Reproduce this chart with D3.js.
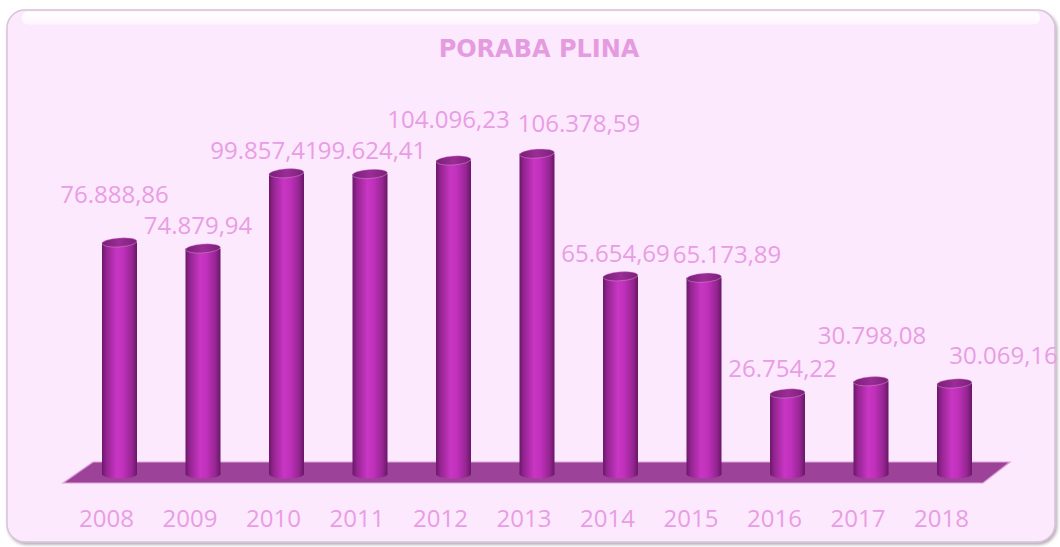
<!DOCTYPE html>
<html lang="sl">
<head>
<meta charset="utf-8">
<script src="https://d3js.org/d3.v7.min.js"></script>
<style>
  body { margin: 0; background: #fff; }
  text { font-family: "Open Sans", sans-serif; }
</style>
</head>
<body>
<script>
// data
var years = ["2008", "2009", "2010", "2011", "2012", "2013", "2014", "2015", "2016", "2017", "2018"];
var usage = [76888.86, 74879.94, 99857.41, 99624.41, 104096.23, 106378.59, 65654.69, 65173.89, 26754.22, 30798.08, 30069.16];
var labels = ["76.888,86", "74.879,94", "99.857,41", "99.624,41", "104.096,23", "106.378,59", "65.654,69", "65.173,89", "26.754,22", "30.798,08", "30.069,16"];
var title = "PORABA PLINA";

// layout: the labels in the original were dragged around by hand, these are the nudges (px)
var labelNudge = [[0, -25], [0, 0], [-17, 0], [7, 0], [0, -18], [47, -7], [0, 0], [28, 0], [0, -2], [6, -23], [54, -5]];

var W = 1060, H = 547;
var rx = 17.5, ry = 4.5;

var svg = d3.select("body").append("svg")
    .attr("width", W)
    .attr("height", H);

var defs = svg.append("defs");

var cyl = defs.append("linearGradient").attr("id", "cyl")
    .attr("x1", "0%").attr("x2", "100%").attr("y1", "0%").attr("y2", "0%");
[["0%", "#6a186a"], ["12%", "#93248f"], ["42%", "#c836c3"], ["60%", "#c031bb"], ["86%", "#952591"], ["100%", "#681767"]]
    .forEach(function(s) { cyl.append("stop").attr("offset", s[0]).attr("stop-color", s[1]); });

var cap = defs.append("linearGradient").attr("id", "cap")
    .attr("x1", "0%").attr("x2", "100%").attr("y1", "0%").attr("y2", "0%");
[["0%", "#7a1f77"], ["50%", "#9a2d96"], ["100%", "#7c2079"]]
    .forEach(function(s) { cap.append("stop").attr("offset", s[0]).attr("stop-color", s[1]); });

var shine = defs.append("linearGradient").attr("id", "shine")
    .attr("x1", "0%").attr("x2", "0%").attr("y1", "0%").attr("y2", "100%");
shine.append("stop").attr("offset", "0%").attr("stop-color", "#fff").attr("stop-opacity", 1);
shine.append("stop").attr("offset", "100%").attr("stop-color", "#fff").attr("stop-opacity", 0.6);

var shadow = defs.append("filter").attr("id", "shadow")
    .attr("x", "-5%").attr("y", "-5%").attr("width", "110%").attr("height", "110%");
shadow.append("feDropShadow").attr("dx", 1.5).attr("dy", 2).attr("stdDeviation", 1.5)
    .attr("flood-color", "#7a6a7a").attr("flood-opacity", 0.55);

// frame
svg.append("rect")
    .attr("x", 7).attr("y", 10)
    .attr("width", 1048).attr("height", 532)
    .attr("rx", 18)
    .attr("fill", "#fde9fd")
    .attr("stroke", "#d8c4d8")
    .attr("stroke-width", 1.5)
    .attr("filter", "url(#shadow)");

svg.append("rect")
    .attr("x", 22).attr("y", 11.5)
    .attr("width", 1018).attr("height", 13)
    .attr("rx", 6)
    .attr("fill", "url(#shine)");

// title
svg.append("text")
    .attr("x", 539).attr("y", 57)
    .attr("text-anchor", "middle")
    .style("font-family", "'DejaVu Sans', Verdana, sans-serif")
    .style("font-weight", "bold")
    .style("font-size", "24px")
    .attr("fill", "#e59be0")
    .text(title);

// scales
var x = d3.scalePoint()
    .domain(years)
    .range([119.5, 954.5]);

var y = d3.scaleLinear()
    .domain([0, 110000])
    .range([474, 474 - 110000 * 0.003012]);

var first = x(years[0]), last = x(years[years.length - 1]);
var floorTop = 462, floorBot = 483;

// floor
svg.append("path")
    .attr("d", "M" + (first - 56.5) + "," + floorBot +
        "L" + (first - 26.5) + "," + floorTop +
        "L" + (last + 55.5) + "," + floorTop +
        "L" + (last + 28.5) + "," + floorBot + "Z")
    .attr("fill", "#9c4399")
    .attr("stroke", "#dca2d8")
    .attr("stroke-width", 1.2);

// cylinders
var rows = years.map(function(d, i) { return { year: d, v: usage[i], label: labels[i], nudge: labelNudge[i] }; });

var bar = svg.selectAll(".bar")
    .data(rows)
    .enter()
    .append("g")
    .attr("class", "bar")
    .attr("transform", function(d) { return "translate(" + x(d.year) + ",0)"; });

bar.append("ellipse")
    .attr("cx", 0).attr("cy", y(0))
    .attr("rx", rx).attr("ry", ry)
    .attr("fill", "url(#cyl)");

bar.append("rect")
    .attr("x", -rx)
    .attr("y", function(d) { return y(d.v); })
    .attr("width", rx * 2)
    .attr("height", function(d) { return y(0) - y(d.v); })
    .attr("fill", "url(#cyl)");

bar.append("ellipse")
    .attr("cx", 0)
    .attr("cy", function(d) { return y(d.v); })
    .attr("rx", rx).attr("ry", ry)
    .attr("transform", function(d) { return "rotate(-4,0," + y(d.v) + ")"; })
    .attr("fill", "url(#cap)")
    .attr("stroke", "#e6a9e2")
    .attr("stroke-width", 0.4);

// value labels
bar.append("text")
    .attr("x", function(d) { return -5 + d.nudge[0]; })
    .attr("y", function(d) { return y(d.v) - ry - 10 + d.nudge[1]; })
    .attr("text-anchor", "middle")
    .style("font-size", "24px")
    .attr("fill", "#e89de4")
    .text(function(d) { return d.label; });

// category axis
var axis = svg.append("g")
    .attr("transform", "translate(-13,527)");

axis.selectAll("text")
    .data(years)
    .enter()
    .append("text")
    .attr("x", function(d) { return x(d); })
    .attr("text-anchor", "middle")
    .style("font-size", "24px")
    .attr("fill", "#e89de4")
    .text(function(d) { return d; });
</script>
</body>
</html>
